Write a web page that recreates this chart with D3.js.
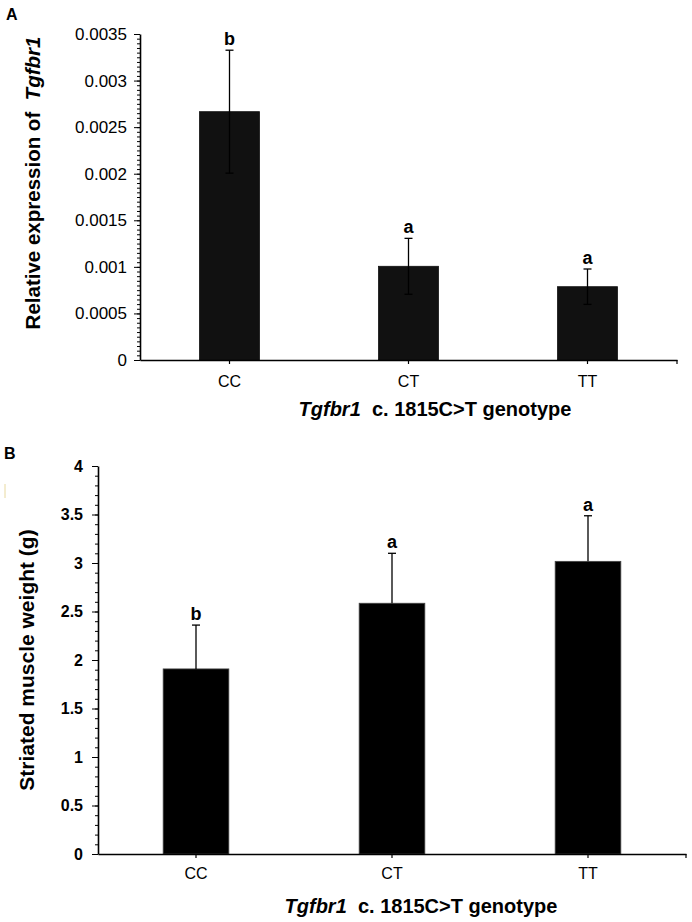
<!DOCTYPE html>
<html>
<head>
<meta charset="utf-8">
<script src="https://cdn.jsdelivr.net/npm/d3@7"></script>
<style>
  html, body { margin: 0; padding: 0; background: #fff; }
  svg { display: block; font-family: "Liberation Sans", Arial, sans-serif; }
</style>
</head>
<body>
<svg id="chart" width="692" height="922"></svg>
<script>
// ---- data ----
const categories = ["CC", "CT", "TT"];
const exprMeans = [0.002666, 0.001006, 0.000787];
const exprErrors = [0.00066, 0.0003, 0.00019];
const exprLetters = ["b", "a", "a"];
const exprTicks = [0, 0.0005, 0.001, 0.0015, 0.002, 0.0025, 0.003, 0.0035];

const weightMeans = [1.908, 2.585, 3.017];
const weightErrors = [0.452, 0.515, 0.47];
const weightLetters = ["b", "a", "a"];
const weightTicks = [0, 0.5, 1, 1.5, 2, 2.5, 3, 3.5, 4];

const svg = d3.select("#chart");
const FONT = '"Liberation Sans", Arial, sans-serif';

function panel(opts) {
  const g = svg.append("g");
  const x = d3.scaleBand().domain(categories).range([opts.x0, opts.x1]).paddingInner(0.665).paddingOuter(0.3325);
  const y = d3.scaleLinear().domain([0, opts.ymax]).range([opts.y0, opts.y1]);

  // minor ticks
  const minor = d3.range(0, opts.ymax + opts.minorStep / 2, opts.minorStep);
  g.append("g").attr("transform", `translate(${opts.x0},0)`)
    .call(d3.axisLeft(y).tickValues(minor).tickSize(3).tickFormat(""))
    .call(a => a.select(".domain").remove())
    .call(a => a.selectAll("line").attr("stroke", "#000").attr("stroke-width", 1));

  // major axis
  g.append("g").attr("transform", `translate(${opts.x0},0)`)
    .call(d3.axisLeft(y).tickValues(opts.ticks).tickSize(6).tickSizeOuter(0).tickPadding(opts.tickPad)
      .tickFormat(d => String(d)))
    .call(a => a.select(".domain").attr("stroke", "#000").attr("stroke-width", 1.6))
    .call(a => a.selectAll("line").attr("stroke", "#000").attr("stroke-width", 1))
    .call(a => a.selectAll("text").attr("fill", "#000")
      .style("font-size", opts.tickFont + "px").style("font-weight", opts.tickBold ? "bold" : "normal")
      .style("font-family", FONT));

  // bars
  g.selectAll("rect.bar").data(categories).enter().append("rect")
    .attr("x", d => x(d)).attr("width", x.bandwidth())
    .attr("y", (d, i) => y(opts.means[i]))
    .attr("height", (d, i) => y(0) - y(opts.means[i]))
    .attr("fill", opts.barColor).attr("stroke", opts.barStroke).attr("stroke-width", 0.8);

  // error bars
  const cx = d => x(d) + x.bandwidth() / 2;
  g.selectAll("line.err").data(categories).enter().append("line")
    .attr("x1", cx).attr("x2", cx)
    .attr("y1", (d, i) => y(opts.means[i] + opts.errors[i]))
    .attr("y2", (d, i) => y(opts.lower ? opts.means[i] - opts.errors[i] : opts.means[i]))
    .attr("stroke", "#000").attr("stroke-width", 1.3);
  g.selectAll("line.capT").data(categories).enter().append("line")
    .attr("x1", d => cx(d) - 4).attr("x2", d => cx(d) + 4)
    .attr("y1", (d, i) => y(opts.means[i] + opts.errors[i]))
    .attr("y2", (d, i) => y(opts.means[i] + opts.errors[i]))
    .attr("stroke", "#000").attr("stroke-width", 1.3);
  if (opts.lower) {
    g.selectAll("line.capB").data(categories).enter().append("line")
      .attr("x1", d => cx(d) - 4).attr("x2", d => cx(d) + 4)
      .attr("y1", (d, i) => y(opts.means[i] - opts.errors[i]))
      .attr("y2", (d, i) => y(opts.means[i] - opts.errors[i]))
      .attr("stroke", "#000").attr("stroke-width", 1.3);
  }

  // letters
  g.selectAll("text.letter").data(categories).enter().append("text")
    .attr("x", cx).attr("y", (d, i) => y(opts.means[i] + opts.errors[i]) - 5)
    .attr("text-anchor", "middle").style("font-size", "18px").style("font-weight", "bold")
    .text((d, i) => opts.letters[i]);

  // x axis
  const xa = g.append("g").attr("transform", `translate(0,${opts.y0})`)
    .call(d3.axisBottom(x).tickSize(4).tickSizeOuter(0).tickPadding(opts.catPad))
    .call(a => a.select(".domain").attr("stroke", "#000").attr("stroke-width", 1.6))
    .call(a => a.selectAll("line").attr("stroke", "#000").attr("stroke-width", 1.2))
    .call(a => a.selectAll("text").attr("fill", "#000").style("font-size", "16px")
      .style("font-family", FONT));
  xa.append("line").attr("x1", opts.x1).attr("x2", opts.x1).attr("y1", 0).attr("y2", 4)
    .attr("stroke", "#000").attr("stroke-width", 1.2);

  // x title
  const xt = g.append("text").attr("x", opts.xTitleX).attr("y", opts.xTitleY)
    .attr("text-anchor", "middle").style("font-size", opts.xTitleFont + "px").style("font-weight", "bold");
  xt.append("tspan").style("font-style", "italic").text("Tgfbr1");
  xt.append("tspan").text("\u00a0\u00a0c. 1815C>T genotype");

  // y title
  const yt = g.append("text").attr("transform", `translate(${opts.yTitleX},${opts.yTitleY}) rotate(-90)`)
    .attr("text-anchor", "middle").style("font-size", opts.yTitleFont + "px").style("font-weight", "bold");
  opts.yTitle.forEach(p => {
    yt.append("tspan").style("font-style", p.italic ? "italic" : "normal").text(p.t);
  });

  // panel letter
  g.append("text").attr("x", opts.labelX).attr("y", opts.labelY)
    .style("font-size", "16px").style("font-weight", "bold").text(opts.label);
}

panel({
  x0: 140, x1: 677, y0: 360, y1: 34, ymax: 0.0035, minorStep: 0.00005,
  ticks: exprTicks, tickFont: 17, tickBold: false, tickPad: 7, catPad: 12,
  means: exprMeans, errors: exprErrors, letters: exprLetters, lower: true,
  barColor: "#111", barStroke: "#111",
  xTitleX: 435, xTitleY: 416, xTitleFont: 20,
  yTitleX: 40, yTitleY: 183, yTitleFont: 20.5,
  yTitle: [{t: "Relative expression of\u00a0\u00a0", italic: false}, {t: "Tgfbr1", italic: true}],
  label: "A", labelX: 6, labelY: 20
});

panel({
  x0: 98, x1: 686, y0: 854, y1: 466, ymax: 4, minorStep: 0.1,
  ticks: weightTicks, tickFont: 16, tickBold: true, tickPad: 9, catPad: 9.5,
  means: weightMeans, errors: weightErrors, letters: weightLetters, lower: false,
  barColor: "#000", barStroke: "#444",
  xTitleX: 421, xTitleY: 913, xTitleFont: 20,
  yTitleX: 34, yTitleY: 660, yTitleFont: 21,
  yTitle: [{t: "Striated muscle weight (g)", italic: false}],
  label: "B", labelX: 4, labelY: 459
});

// faint artifact mark at left edge of panel B
svg.append("line").attr("x1", 5).attr("x2", 5).attr("y1", 484).attr("y2", 498)
  .attr("stroke", "#e8d9a0").attr("stroke-width", 1);
</script>
</body>
</html>
